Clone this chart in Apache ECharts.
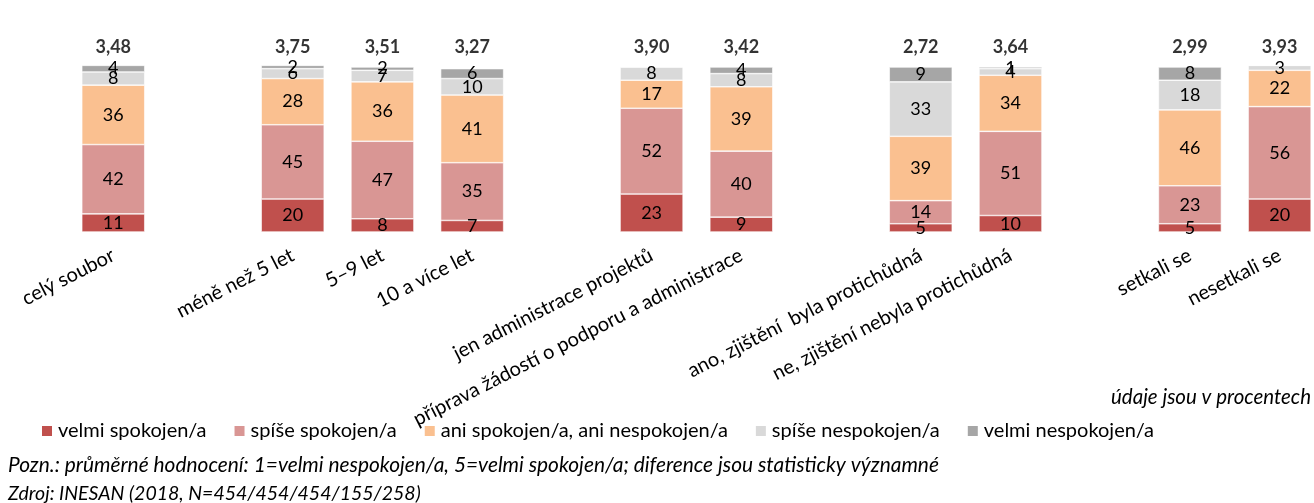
<!DOCTYPE html>
<html>
<head>
<meta charset="utf-8">
<script src="https://cdn.jsdelivr.net/npm/echarts@6/dist/echarts.min.js"></script>
<style>
  html, body { margin: 0; padding: 0; background: #ffffff; overflow: hidden; }
  /* the plot runs a little past the right edge of the window */
  #chart { width: 1330px; height: 503px; }
</style>
</head>
<body>
<div id="chart"></div>
<script>
// Groups are separated by empty categories
const categories = [
  'celý soubor', '',
  'méně než 5 let', '5–9 let', '10 a více let', '',
  'jen administrace projektů', 'příprava žádostí o podporu a administrace', '',
  'ano, zjištění  byla protichůdná', 'ne, zjištění nebyla protichůdná', '',
  'setkali se', 'nesetkali se'
];

// Shares in percent, bottom to top of each stack
const velmiSpokojen   = [11, null, 20,  8,  7, null, 23,  9, null,  5, 10, null,  5, 20];
const spiseSpokojen   = [42, null, 45, 47, 35, null, 52, 40, null, 14, 51, null, 23, 56];
const aniAni          = [36, null, 28, 36, 41, null, 17, 39, null, 39, 34, null, 46, 22];
const spiseNespokojen = [ 8, null,  6,  7, 10, null,  8,  8, null, 33,  4, null, 18,  3];
const velmiNespokojen = [ 4, null,  2,  2,  6, null,  0,  4, null,  9,  1, null,  8,  0];

// Average rating (1 = very dissatisfied, 5 = very satisfied)
const means = [3.48, null, 3.75, 3.51, 3.27, null, 3.90, 3.42, null, 2.72, 3.64, null, 2.99, 3.93];

const seriesNames = [
  'velmi spokojen/a',
  'spíše spokojen/a',
  'ani spokojen/a, ani nespokojen/a',
  'spíše nespokojen/a',
  'velmi nespokojen/a'
];
const seriesColors = ['#C0504D', '#D99694', '#FAC090', '#D9D9D9', '#A6A6A6'];
const seriesValues = [velmiSpokojen, spiseSpokojen, aniAni, spiseNespokojen, velmiNespokojen];

const FONT = 'Lato, "Noto Sans", sans-serif';
const MEAN_ROW = 112; // height on the value axis where the averages are printed

const barSeries = seriesNames.map((name, k) => ({
  name: name,
  type: 'bar',
  stack: 'share',
  barWidth: 63,
  data: seriesValues[k].map(v => (v == null ? '-' : v)),
  itemStyle: { color: seriesColors[k], borderColor: '#ffffff', borderWidth: 0.6 },
  label: {
    show: true,
    position: 'inside',
    color: '#000000',
    fontFamily: FONT,
    fontSize: 18,
    formatter: p => (p.value ? String(p.value) : '')
  },
  emphasis: { disabled: true }
}));

const meanSeries = {
  name: 'průměr',
  type: 'scatter',
  symbolSize: 0,
  silent: true,
  data: means
    .map((m, i) => (m == null ? null : { value: [i, MEAN_ROW], mean: m }))
    .filter(d => d !== null),
  label: {
    show: true,
    position: 'inside',
    color: '#000000',
    fontFamily: FONT,
    fontWeight: 'bold',
    fontSize: 18,
    formatter: p => p.data.mean.toFixed(2).replace('.', ',')
  }
};

const noteStyle = size => ({
  fontFamily: FONT, fontStyle: 'italic', fontWeight: 'normal', fontSize: size, color: '#000000'
});

const chart = echarts.init(document.getElementById('chart'), null, { renderer: 'canvas' });

chart.setOption({
  animation: false,
  backgroundColor: '#ffffff',
  textStyle: { fontFamily: FONT },
  grid: { left: 68.4, right: 5.5, top: 34, bottom: 271, containLabel: false },
  xAxis: {
    type: 'category',
    data: categories,
    axisLine: { show: false },
    axisTick: { show: false },
    axisLabel: {
      interval: 0,
      rotate: 27,
      margin: 22,
      color: '#000000',
      fontFamily: FONT,
      fontSize: 20
    }
  },
  yAxis: {
    type: 'value',
    min: 0,
    max: 120,
    show: false,
    splitLine: { show: false }
  },
  legend: {
    data: seriesNames,
    left: 40,
    top: 421,
    padding: 0,
    icon: 'rect',
    itemWidth: 12,
    itemHeight: 12,
    itemGap: 26,
    textStyle: { color: '#000000', fontFamily: FONT, fontSize: 20 }
  },
  title: [
    { text: 'údaje jsou v procentech', right: 19, top: 387, padding: 0, textStyle: noteStyle(20.5) },
    {
      text: 'Pozn.: průměrné hodnocení: 1=velmi nespokojen/a, 5=velmi spokojen/a; diference jsou statisticky významné',
      left: 8, top: 455, padding: 0, textStyle: noteStyle(20.9)
    },
    { text: 'Zdroj: INESAN (2018, N=454/454/454/155/258)', left: 8, top: 484, padding: 0, textStyle: noteStyle(19.5) }
  ],
  series: barSeries.concat([meanSeries])
});
</script>
</body>
</html>
